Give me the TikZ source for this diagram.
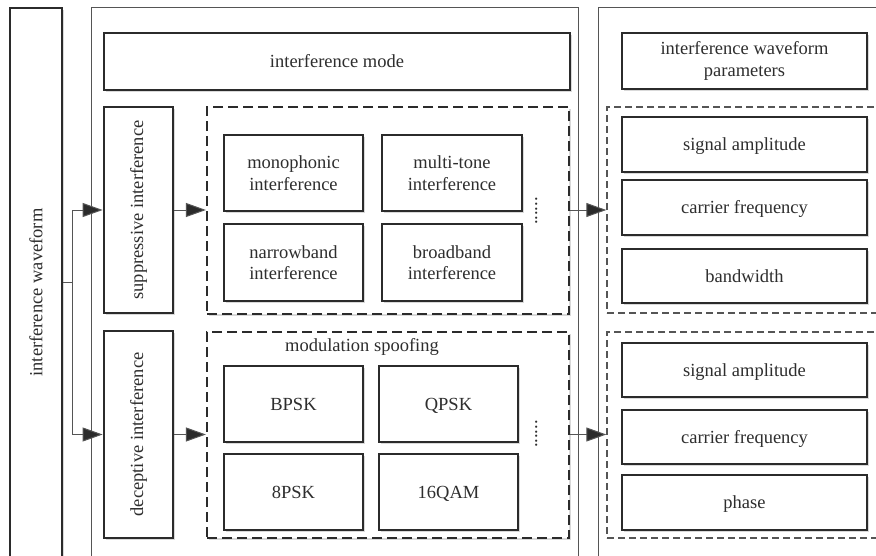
\documentclass[tikz,border=0pt]{standalone}
\usepackage{fontspec}
\setmainfont{Liberation Serif}
\newfontfamily\tnr{Liberation Serif}
\usetikzlibrary{arrows.meta,shadows,calc}
\definecolor{ink}{HTML}{2B2B2B}
\definecolor{txtc}{HTML}{2E2E2E}
\definecolor{thin}{HTML}{555555}
\begin{document}
\begin{tikzpicture}[x=1pt,y=-1pt,
  every node/.style={font=\tnr\fontsize{18.5}{21.5}\selectfont, text=txtc, align=center},
  shd/.style={drop shadow={shadow xshift=1.5pt, shadow yshift=-2pt, fill=black, opacity=0.15}},
  tbox/.style={draw=ink, line width=2.8pt, fill=white, shd, inner sep=2pt},
  one/.style={text height=12.5pt, text depth=0pt},
  dbox/.style={draw=ink, line width=2.2pt, dash pattern=on 10pt off 5pt, fill=white, shd, inner sep=0pt},
  rdbox/.style={draw=thin, line width=1.4pt, dash pattern=on 7pt off 4pt, fill=white, inner sep=0pt},
  panel/.style={draw=thin, line width=0.9pt, fill=white, inner sep=0pt},
  arr/.style={draw=thin, line width=1pt, -{Triangle[length=20pt,width=14pt,fill=ink]}},
  conn/.style={draw=thin, line width=1pt},
  rtxt/.style={rotate=90, inner sep=0pt}
]
\useasboundingbox (0,0) rectangle (876,555);
\clip (0,0) rectangle (876,555);
% panels
\node[panel, minimum width=487, minimum height=600] (mid) at (334.5,307) {};
\node[panel, minimum width=300, minimum height=600] (right) at (748,307) {};
% left box
\node[tbox, minimum width=52, minimum height=580] (wave) at (36,298) {};
\node[rtxt] at (36,292.5) {interference waveform};
% mode
\node[tbox, one, minimum width=466, minimum height=57] (mode) at (337,61.5) {interference mode};
% supp / dec
\node[tbox, minimum width=69, minimum height=206] (supp) at (138.5,210) {};
\node[rtxt] at (supp.center) {suppressive interference};
\node[tbox, minimum width=69, minimum height=207] (dec) at (138.5,434.5) {};
\node[rtxt] at (dec.center) {deceptive interference};
% dashed groups
\node[dbox, minimum width=362, minimum height=207] (g1) at (388,210.5) {};
\node[dbox, minimum width=362, minimum height=206] (g2) at (388,435) {};
% group 1 boxes
\node[tbox, minimum width=139, minimum height=76] (mono) at (293.5,173) {monophonic\\interference};
\node[tbox, minimum width=140, minimum height=76] (multi) at (452,173) {multi-tone\\interference};
\node[tbox, minimum width=139, minimum height=77] (narrow) at (293.5,262.5) {narrowband\\interference};
\node[tbox, minimum width=140, minimum height=77] (broad) at (452,262.5) {broadband\\interference};
\node[rotate=90, inner sep=0pt, text height=0pt, text depth=0pt] (dots1) at (537,211) {......};
% group 2
\node (modsp) at (362,347) {modulation spoofing};
\node[tbox, one, minimum width=139, minimum height=76] (bpsk) at (293.5,404) {BPSK};
\node[tbox, one, minimum width=139, minimum height=76] (qpsk) at (448.5,404) {QPSK};
\node[tbox, one, minimum width=139, minimum height=76] (epsk) at (293.5,492) {8PSK};
\node[tbox, one, minimum width=139, minimum height=76] (qam) at (448.5,492) {16QAM};
\node[rotate=90, inner sep=0pt, text height=0pt, text depth=0pt] (dots2) at (537,434) {......};
% right panel
\node[tbox, minimum width=245, minimum height=56] (wparam) at (744.5,61) {interference waveform\\parameters};
\node[rdbox, minimum width=300, minimum height=206] (r1) at (757,210) {};
\node[rdbox, minimum width=300, minimum height=206] (r2) at (757,435) {};
\node[tbox, one, minimum width=245, minimum height=55] (sa1) at (744.5,144.5) {signal amplitude};
\node[tbox, one, minimum width=245, minimum height=55] (cf1) at (744.5,207.5) {carrier frequency};
\node[tbox, one, minimum width=245, minimum height=54] (bw) at (744.5,276) {bandwidth};
\node[tbox, one, minimum width=245, minimum height=54] (sa2) at (744.5,370) {signal amplitude};
\node[tbox, one, minimum width=245, minimum height=54] (cf2) at (744.5,437) {carrier frequency};
\node[tbox, one, minimum width=245, minimum height=55] (ph) at (744.5,502.5) {phase};
% connectors
\coordinate (j) at (72,282);
\draw[conn] (wave.east |- j) -- (j);
\draw[arr] (j) |- (supp.west);
\draw[arr] (j) |- (dec.west);
\draw[arr] (supp.east) -- (supp.east -| g1.west);
\draw[arr] (dec.east) -- (dec.east -| g2.west);
\draw[arr] (g1.east |- supp.east) -- (r1.west |- supp.east);
\draw[arr] (g2.east |- dec.east) -- (r2.west |- dec.east);
\end{tikzpicture}
\end{document}
